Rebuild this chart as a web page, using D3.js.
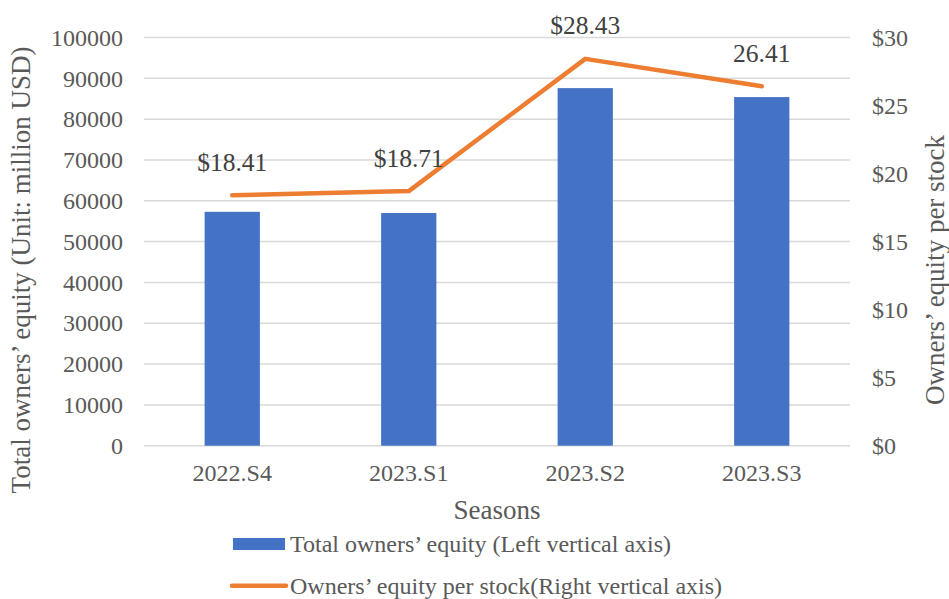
<!DOCTYPE html>
<html>
<head>
<meta charset="utf-8">
<script src="https://cdn.jsdelivr.net/npm/d3@7"></script>
<style>
  html, body { margin: 0; padding: 0; background: #fff; }
  svg { display: block; }
  text { font-family: "Liberation Serif", "Times New Roman", serif; }
</style>
</head>
<body>
<svg id="chart" width="949" height="599"></svg>
<script>
const categories = ["2022.S4", "2023.S1", "2023.S2", "2023.S3"];
const equityValues = [57300, 57000, 87600, 85400];
const perStockValues = [18.41, 18.71, 28.43, 26.41];
const perStockLabels = ["$18.41", "$18.71", "$28.43", "26.41"];
const leftTicks = [0, 10000, 20000, 30000, 40000, 50000, 60000, 70000, 80000, 90000, 100000];
const rightTicks = [0, 5, 10, 15, 20, 25, 30];
const leftTitle = "Total owners\u2019 equity (Unit: million USD)";
const rightTitle = "Owners\u2019 equity per stock";
const xTitle = "Seasons";
const legendBar = "Total owners\u2019 equity (Left vertical axis)";
const legendLine = "Owners\u2019 equity per stock(Right vertical axis)";

const svg = d3.select("#chart");
const plot = { left: 144, right: 850, top: 37.5, bottom: 445.7 };
const textColor = "#595959";
const serif = "'Liberation Serif', 'Times New Roman', serif";

const x = d3.scaleBand().domain(categories).range([plot.left, plot.right]).padding(0);
const yL = d3.scaleLinear().domain([0, 100000]).range([plot.bottom, plot.top]);
const yR = d3.scaleLinear().domain([0, 30]).range([plot.bottom, plot.top]);

// gridlines
svg.append("g").selectAll("line").data(leftTicks).join("line")
  .attr("x1", plot.left).attr("x2", plot.right)
  .attr("y1", d => yL(d)).attr("y2", d => yL(d))
  .attr("stroke", "#d9d9d9").attr("stroke-width", 1.5);

// left axis
const leftAxis = svg.append("g").attr("transform", `translate(${plot.left},0)`)
  .call(d3.axisLeft(yL).tickValues(leftTicks).tickFormat(d3.format("d")).tickSize(0).tickPadding(21));
leftAxis.select(".domain").remove();
leftAxis.selectAll("text").attr("font-size", 24).attr("fill", textColor).style("font-family", serif);

// right axis
const rightAxis = svg.append("g").attr("transform", `translate(${plot.right},0)`)
  .call(d3.axisRight(yR).tickValues(rightTicks).tickFormat(d => "$" + d).tickSize(0).tickPadding(22));
rightAxis.select(".domain").remove();
rightAxis.selectAll("text").attr("font-size", 24).attr("fill", textColor).style("font-family", serif);

// x axis labels
const xAxis = svg.append("g").attr("transform", `translate(0,${plot.bottom})`)
  .call(d3.axisBottom(x).tickSize(0).tickPadding(18));
xAxis.select(".domain").remove();
xAxis.selectAll("text").attr("font-size", 24).attr("fill", textColor).style("font-family", serif);

// bars
const barFrac = 0.313;
svg.append("g").selectAll("rect").data(categories).join("rect")
  .attr("x", (d) => x(d) + x.bandwidth() * (1 - barFrac) / 2)
  .attr("width", x.bandwidth() * barFrac)
  .attr("y", (d, i) => yL(equityValues[i]))
  .attr("height", (d, i) => yL(0) - yL(equityValues[i]))
  .attr("fill", "#4472C4");

// line
const line = d3.line()
  .x((d, i) => x(categories[i]) + x.bandwidth() / 2)
  .y(d => yR(d));
svg.append("path").datum(perStockValues)
  .attr("d", line)
  .attr("fill", "none")
  .attr("stroke", "#ED7D31")
  .attr("stroke-width", 4.5)
  .attr("stroke-linecap", "round")
  .attr("stroke-linejoin", "round");

// data labels
svg.append("g").selectAll("text").data(perStockValues).join("text")
  .attr("x", (d, i) => x(categories[i]) + x.bandwidth() / 2)
  .attr("y", d => yR(d) - 24.5)
  .attr("text-anchor", "middle")
  .attr("font-size", 25.5)
  .attr("fill", "#404040")
  .text((d, i) => perStockLabels[i]);

// axis titles
svg.append("text")
  .attr("transform", `translate(30,270) rotate(-90)`)
  .attr("text-anchor", "middle")
  .attr("font-size", 27)
  .attr("fill", textColor)
  .text(leftTitle);

svg.append("text")
  .attr("transform", `translate(943.5,270) rotate(-90)`)
  .attr("text-anchor", "middle")
  .attr("font-size", 27)
  .attr("fill", textColor)
  .text(rightTitle);

svg.append("text")
  .attr("x", 497).attr("y", 519)
  .attr("text-anchor", "middle")
  .attr("font-size", 27)
  .attr("fill", textColor)
  .text(xTitle);

// legend
const lg = svg.append("g");
lg.append("rect").attr("x", 233).attr("y", 538).attr("width", 52).attr("height", 12).attr("fill", "#4472C4");
lg.append("text").attr("x", 290).attr("y", 552).attr("font-size", 24).attr("fill", textColor).text(legendBar);
lg.append("line").attr("x1", 232).attr("x2", 286).attr("y1", 585.7).attr("y2", 585.7)
  .attr("stroke", "#ED7D31").attr("stroke-width", 4.5).attr("stroke-linecap", "round");
lg.append("text").attr("x", 290).attr("y", 593.5).attr("font-size", 24).attr("fill", textColor).text(legendLine);
</script>
</body>
</html>
